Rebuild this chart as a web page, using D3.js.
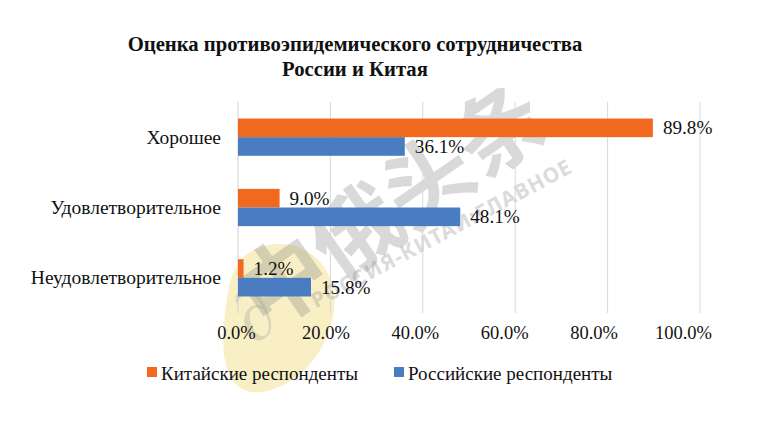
<!DOCTYPE html>
<html>
<head>
<meta charset="utf-8">
<script src="https://cdn.jsdelivr.net/npm/d3@7"></script>
<style>
  body { margin: 0; background: #fff; }
</style>
</head>
<body>
<svg id="chart" width="768" height="432"></svg>
<script>
// data
const categories = ["Хорошее", "Удовлетворительное", "Неудовлетворительное"];
const seriesNames = ["Китайские респонденты", "Российские респонденты"];
const chinaValues = [0.898, 0.090, 0.012];
const russiaValues = [0.361, 0.481, 0.158];
const tickValues = [0, 0.2, 0.4, 0.6, 0.8, 1.0];
const colors = ["#f0691f", "#4a7cc1"];

const serif = "Liberation Serif";
const svg = d3.select("#chart").style("font-family", serif);

// watermark behind everything
const wm = svg.append("g").attr("class", "watermark");
wm.append("path")
    .attr("d", "M250,252 C295,228 340,262 334,310 C328,352 300,385 262,392 C232,396 220,368 224,325 C227,292 230,264 250,252 Z")
    .attr("fill", "#f6e9b0")
    .attr("opacity", 0.75);
wm.append("text")
    .attr("transform", "translate(268,335) rotate(-35)")
    .style("font-family", "Noto Sans")
    .attr("font-size", 72)
    .attr("font-weight", "bold")
    .attr("fill", "#9a9a9a")
    .attr("opacity", 0.3)
    .attr("text-anchor", "middle")
    .text("∂");
wm.append("text")
    .attr("transform", "translate(410,232) rotate(-35)")
    .style("font-family", "Noto Sans CJK SC")
    .attr("font-size", 88)
    .attr("font-weight", "bold")
    .attr("fill", "#8c8c8c")
    .attr("opacity", 0.32)
    .attr("text-anchor", "middle")
    .text("中俄头条");
wm.append("text")
    .attr("transform", "translate(445,240) rotate(-28)")
    .style("font-family", "Noto Sans")
    .attr("font-size", 21)
    .attr("font-weight", "bold")
    .attr("letter-spacing", 1)
    .attr("fill", "#8c8c8c")
    .attr("opacity", 0.3)
    .attr("text-anchor", "middle")
    .text("РОССИЯ-КИТАЙ:ГЛАВНОЕ");

// title
const title = svg.append("text")
    .attr("text-anchor", "middle")
    .attr("font-size", 20.7)
    .attr("font-weight", "bold")
    .attr("fill", "#111");
title.append("tspan").attr("x", 355).attr("y", 51).text("Оценка противоэпидемического сотрудничества");
title.append("tspan").attr("x", 355).attr("y", 76).text("России и Китая");

// scales
const x = d3.scaleLinear().domain([0, 1]).range([238, 700]);
const xLabel = d3.scaleLinear().domain([0, 1]).range([236, 683]);
const y = d3.scaleBand().domain(categories).range([102, 313])
    .paddingInner(0.47).paddingOuter(0.235);
const ySub = d3.scaleBand().domain(seriesNames).range([0, y.bandwidth()]);

// gridlines
svg.append("g")
    .selectAll("line")
    .data(tickValues.slice(1))
    .join("line")
    .attr("x1", d => x(d)).attr("x2", d => x(d))
    .attr("y1", 102).attr("y2", 313)
    .attr("stroke", "#d9d9d9")
    .attr("stroke-width", 1);

// category axis line
svg.append("line")
    .attr("x1", x(0)).attr("x2", x(0))
    .attr("y1", 102).attr("y2", 313)
    .attr("stroke", "#d0d0d0");

// bars
const rows = categories.map((c, i) => ({
    cat: c,
    vals: [
        { s: seriesNames[0], v: chinaValues[i], c: colors[0] },
        { s: seriesNames[1], v: russiaValues[i], c: colors[1] }
    ]
}));

const groups = svg.append("g")
    .selectAll("g")
    .data(rows)
    .join("g")
    .attr("transform", d => "translate(0," + y(d.cat) + ")");

groups.selectAll("rect")
    .data(d => d.vals)
    .join("rect")
    .attr("x", x(0))
    .attr("y", d => ySub(d.s))
    .attr("width", d => x(d.v) - x(0))
    .attr("height", ySub.bandwidth())
    .attr("fill", d => d.c);

groups.selectAll("text")
    .data(d => d.vals)
    .join("text")
    .attr("x", d => x(d.v) + 10)
    .attr("y", d => ySub(d.s) + ySub.bandwidth() / 2 + 6.5)
    .style("font-family", serif)
    .attr("font-size", 19.2)
    .attr("fill", "#111")
    .text(d => d3.format(".1%")(d.v));

// category labels
svg.append("g")
    .selectAll("text")
    .data(categories)
    .join("text")
    .attr("x", 221)
    .attr("y", d => y(d) + y.bandwidth() / 2 + 6.5)
    .attr("text-anchor", "end")
    .style("font-family", serif)
    .attr("font-size", 19.5)
    .attr("fill", "#111")
    .text(d => d);

// value axis labels
const xAxis = d3.axisBottom(xLabel)
    .tickValues(tickValues)
    .tickFormat(d3.format(".1%"))
    .tickSize(0)
    .tickPadding(0);
const ax = svg.append("g")
    .attr("transform", "translate(0,326)")
    .call(xAxis);
ax.select(".domain").remove();
ax.selectAll("text")
    .style("font-family", serif)
    .attr("font-size", 18.5)
    .attr("fill", "#111");

// legend
const legendX = [147, 394];
const legend = svg.append("g")
    .selectAll("g")
    .data(seriesNames)
    .join("g")
    .attr("transform", (d, i) => "translate(" + legendX[i] + ",367)");
legend.append("rect")
    .attr("width", 10).attr("height", 10)
    .attr("fill", (d, i) => colors[i]);
legend.append("text")
    .attr("x", 14)
    .attr("y", 13)
    .style("font-family", serif)
    .attr("font-size", 19)
    .attr("fill", "#111")
    .text(d => d);
</script>
</body>
</html>
